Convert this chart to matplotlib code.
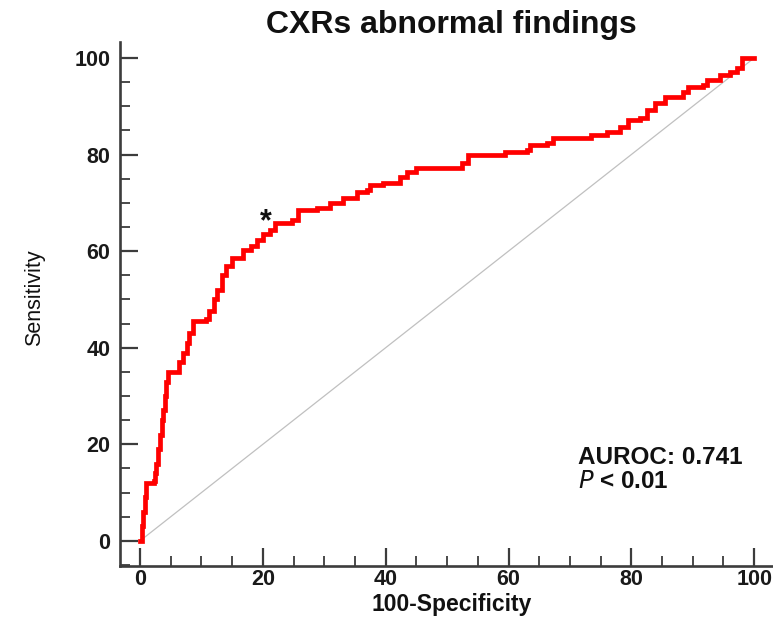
import matplotlib
matplotlib.use("Agg")
import matplotlib.pyplot as plt
from matplotlib.ticker import MultipleLocator

plt.rcParams['font.family'] = ['Liberation Sans', 'DejaVu Sans']

# ROC curve vertices (100-Specificity, Sensitivity)
fpr = [0, 0.3, 0.5, 0.8, 1.0, 2.2, 2.5, 2.6, 2.9, 3.3, 3.6, 3.8, 4.0, 4.3, 4.6,
       6.0, 6.4, 7.0, 7.6, 8.0, 8.6, 10.8, 11.3, 12.0, 12.5, 13.3, 14.0, 15.0,
       16.8, 18.0, 19.0, 20.0, 21.2, 22.0, 24.7, 25.7, 28.8, 31.0, 33.0, 35.3,
       37.0, 37.5, 39.6, 42.3, 43.5, 45.0, 51.6, 52.5, 53.4, 59.0, 59.5, 63.0,
       63.5, 66.3, 67.3, 72.8, 73.5, 76.0, 78.2, 79.5, 81.4, 82.5, 83.9, 85.5,
       88.4, 89.2, 91.7, 92.3, 94.5, 96.1, 97.2, 98.0, 100]
tpr = [0, 3, 6, 9, 12, 12.5, 14, 16, 19, 22, 25, 27, 30, 33, 35,
       35, 37, 39, 41, 43, 45.5, 46, 47.5, 50, 52, 55, 57, 58.5,
       60.2, 61, 62.3, 63.5, 64.4, 65.8, 66.5, 68.5, 69, 70, 71, 72.3,
       72.7, 73.7, 74.1, 75.4, 76.4, 77.2, 77.2, 78.3, 80, 80, 80.5, 81,
       82, 82.4, 83.4, 83.4, 84, 84.7, 85.7, 87.2, 87.6, 89.2, 90.7, 92,
       93, 94, 94.4, 95.4, 96.5, 97.1, 98, 100, 100]
diag = [0, 100]
cut_point = (20.5, 66.0)
title = "CXRs abnormal findings"
xlabel = "100-Specificity"
ylabel = "Sensitivity"
auroc_text = "AUROC: 0.741"
ticks = [0, 20, 40, 60, 80, 100]

W, H = 773, 619
fig = plt.figure(figsize=(W / 100, H / 100), dpi=100)
ax = fig.add_axes([120 / W, 1 - 566 / H, 652 / W, 524 / H])

ax.plot(diag, diag, color='#c0c0c0', lw=0.9, zorder=1)
ax.plot(fpr, tpr, color='#ff0000', lw=3.4, drawstyle='steps-post', zorder=2,
        solid_joinstyle='miter')
ax.text(cut_point[0], cut_point[1], '*', fontsize=22, fontweight='bold',
        ha='center', va='center', color='#111111')

ax.set_xlim(-3.26, 102.9)
ax.set_ylim(-5.2, 103.3)
for s in ['top', 'right']:
    ax.spines[s].set_visible(False)
axc = '#3c3c3c'
for s in ['left', 'bottom']:
    ax.spines[s].set_linewidth(1.9)
    ax.spines[s].set_color(axc)

ax.set_xticks(ticks)
ax.set_yticks(ticks)
ax.xaxis.set_minor_locator(MultipleLocator(5))
ax.yaxis.set_minor_locator(MultipleLocator(5))
ax.tick_params(which='major', direction='in', length=13, width=1.6, color=axc,
               labelsize=15.5)
ax.tick_params(axis='x', which='major', pad=2)
ax.tick_params(axis='y', which='major', pad=7)
ax.tick_params(which='minor', direction='in', length=7.5, width=1.3, color=axc)
for lab in ax.get_xticklabels() + ax.get_yticklabels():
    lab.set_fontweight('bold')
    lab.set_color('#1a1a1a')

fig.text(451 / W, 1 - 25 / H, title, fontsize=23, fontweight='bold',
         ha='center', va='center', color='#111111')
fig.text(452 / W, 1 - 605 / H, xlabel, fontsize=16.5, fontweight='bold',
         ha='center', va='center', color='#111111')
fig.text(35 / W, 1 - 298 / H, ylabel, fontsize=15.5, rotation=90,
         ha='center', va='center', color='#111111')
fig.text(578 / W, 1 - 457 / H, auroc_text, fontsize=17.5, fontweight='bold',
         ha='left', va='center', color='#111111')
fig.text(578 / W, 1 - 482 / H, r'$\bf{\it{P}}$' + ' < 0.01', fontsize=17.5,
         fontweight='bold', ha='left', va='center', color='#111111')

fig.savefig('out.png', dpi=100)
